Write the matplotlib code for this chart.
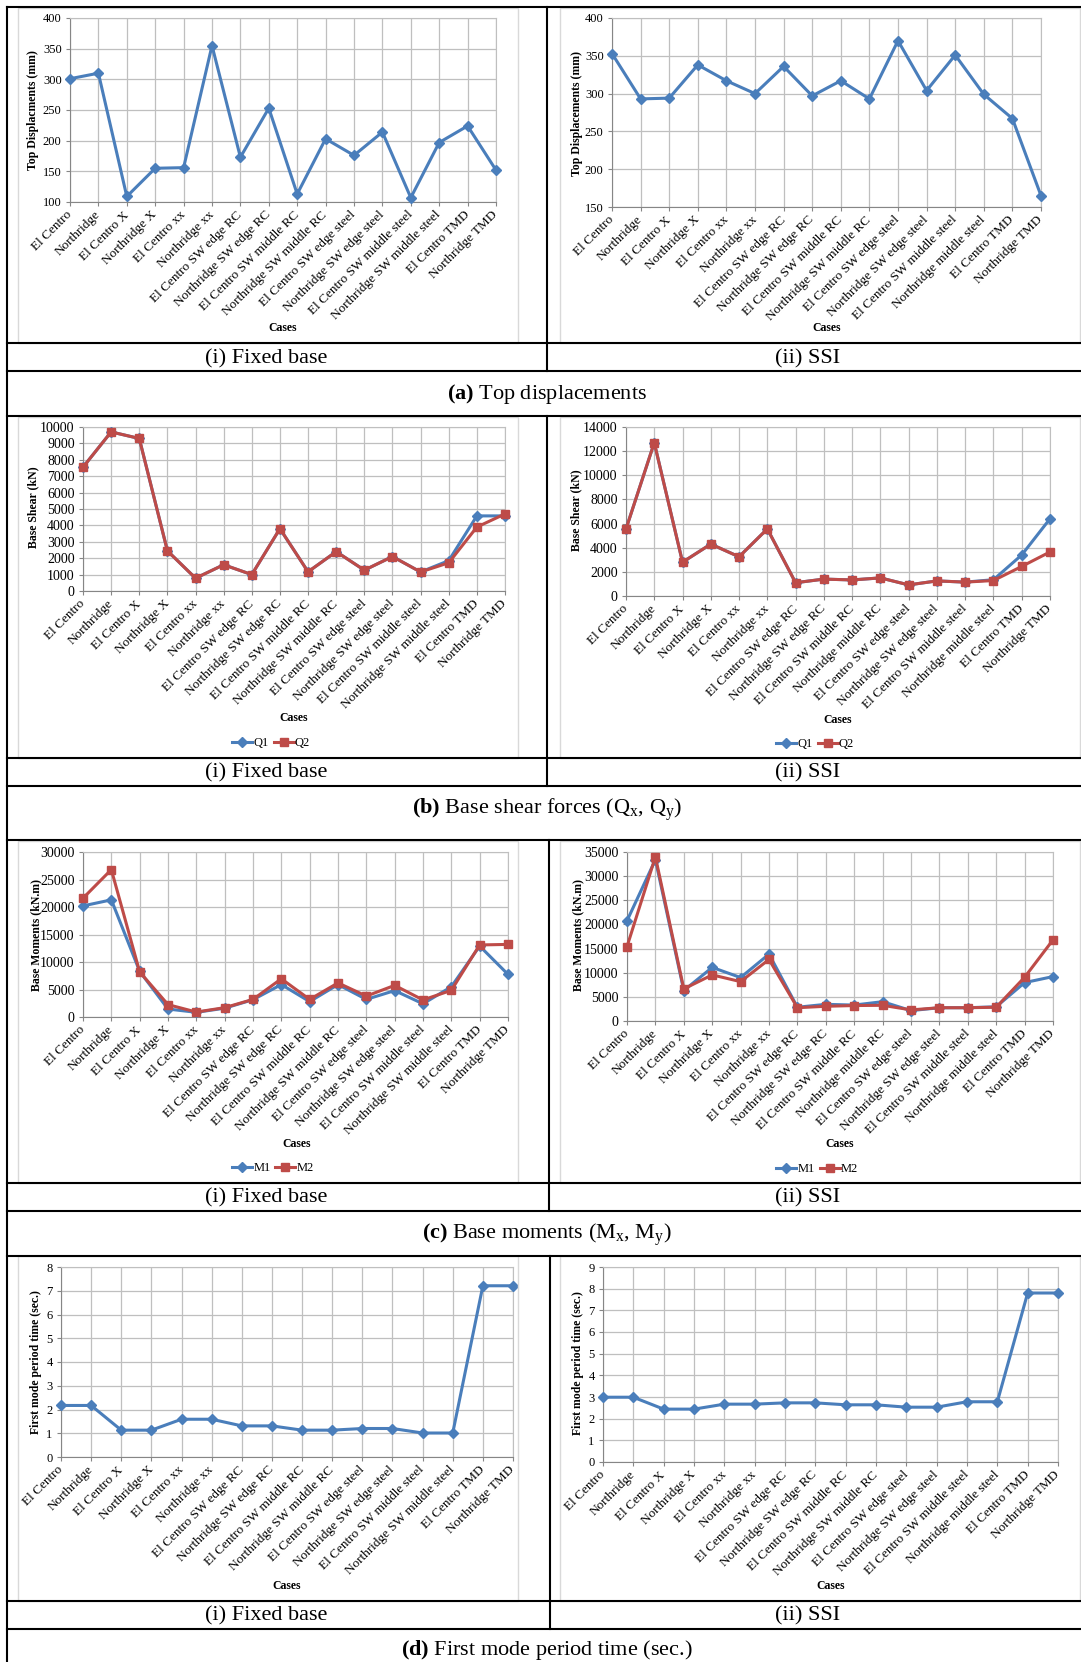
import numpy as np
import matplotlib
matplotlib.use("Agg")
import matplotlib.pyplot as plt
from matplotlib.lines import Line2D
from matplotlib.patches import Rectangle
from matplotlib.ticker import FormatStrFormatter

# page size in pixels, everything below is laid out in pixel coordinates
W, H = 1081, 1662

plt.rcParams['font.family'] = 'Liberation Serif'
plt.rcParams['mathtext.fontset'] = 'custom'
plt.rcParams['mathtext.rm'] = 'Liberation Serif'
plt.rcParams['mathtext.it'] = 'Liberation Serif:italic'
plt.rcParams['mathtext.bf'] = 'Liberation Serif:bold'

# ---- case names ----
cases_fixed = ["El Centro", "Northridge", "El Centro X", "Northridge X",
               "El Centro xx", "Northridge xx", "El Centro SW edge RC",
               "Northridge SW edge RC", "El Centro SW middle RC",
               "Northridge SW middle RC", "El Centro SW edge steel",
               "Northridge SW edge steel", "El Centro SW middle steel",
               "Northridge SW middle steel", "El Centro TMD", "Northridge TMD"]
cases_ssi = ["El Centro", "Northridge", "El Centro X", "Northridge X",
             "El Centro xx", "Northridge xx", "El Centro SW edge RC",
             "Northridge SW edge RC", "El Centro SW middle RC",
             "Northridge SW middle RC", "El Centro SW edge steel",
             "Northridge SW edge steel", "El Centro SW middle steel",
             "Northridge middle steel", "El Centro TMD", "Northridge TMD"]
cases_ssi_force = ["El Centro", "Northridge", "El Centro X", "Northridge X",
                   "El Centro xx", "Northridge xx", "El Centro SW edge RC",
                   "Northridge SW edge RC", "El Centro SW middle RC",
                   "Northridge middle RC", "El Centro SW edge steel",
                   "Northridge SW edge steel", "El Centro SW middle steel",
                   "Northridge middle steel", "El Centro TMD", "Northridge TMD"]

# ---- results ----
# top displacement (mm)
disp_fixed = [301, 310, 109, 155, 156, 355, 173, 253, 113, 203, 176, 214,
              107, 197, 224, 152]
disp_ssi = [353, 293, 294, 338, 317, 300, 336, 297, 317, 293, 370, 304,
            351, 299, 267, 165]

# base shear (kN)
q1_fixed = [7550, 9700, 9300, 2450, 780, 1600, 1000, 3800, 1170, 2400, 1270,
            2100, 1160, 1850, 4580, 4580]
q2_fixed = [7550, 9700, 9300, 2450, 780, 1600, 1000, 3800, 1170, 2400, 1270,
            2100, 1160, 1720, 3900, 4700]
q1_ssi = [5550, 12700, 2800, 4300, 3250, 5560, 1100, 1400, 1330, 1500, 920,
          1250, 1150, 1350, 3400, 6400]
q2_ssi = [5550, 12700, 2800, 4300, 3250, 5560, 1100, 1400, 1330, 1500, 920,
          1250, 1150, 1280, 2450, 3650]

# base moments (kN.m)
m1_fixed = [20200, 21300, 8300, 1450, 850, 1600, 3150, 5900, 2800, 5900,
            3200, 4800, 2400, 5500, 12900, 7750]
m2_fixed = [21600, 26800, 8200, 2250, 900, 1700, 3200, 6950, 3200, 6200,
            3800, 5750, 3100, 4850, 13100, 13200]
m1_ssi = [20750, 33400, 6300, 11100, 9000, 13850, 2850, 3450, 3300, 4000,
          2150, 2750, 2750, 2950, 7950, 9200]
m2_ssi = [15400, 34000, 6650, 9550, 8150, 12750, 2750, 3050, 3200, 3250,
          2300, 2750, 2750, 2850, 9050, 16800]

# first mode period (sec.)
period_fixed = [2.17, 2.17, 1.13, 1.13, 1.59, 1.59, 1.31, 1.31, 1.13, 1.13,
                1.20, 1.20, 1.01, 1.01, 7.21, 7.21]
period_ssi = [2.99, 2.99, 2.44, 2.44, 2.67, 2.67, 2.73, 2.73, 2.64, 2.64,
              2.53, 2.53, 2.78, 2.78, 7.80, 7.80]

BLUE = '#4A7EBB'
RED = '#BE4B48'
GRID = '#BFBFBF'
AXIS = '#868686'


def fy(py):
    return 1 - py / H


def px_axes(fig, x0, y0, x1, y1):
    return fig.add_axes([x0 / W, 1 - y1 / H, (x1 - x0) / W, (y1 - y0) / H])


def hline(fig, y, x0=7, x1=W, lw=1.5, color='black'):
    fig.add_artist(Line2D([x0 / W, x1 / W], [fy(y), fy(y)],
                          transform=fig.transFigure, color=color, lw=lw))


def vline(fig, x, y0, y1, lw=1.5, color='black'):
    fig.add_artist(Line2D([x / W, x / W], [fy(y0), fy(y1)],
                          transform=fig.transFigure, color=color, lw=lw))


def chart_frame(fig, x0, y0, x1, y1):
    fig.add_artist(Rectangle((x0 / W, fy(y1)), (x1 - x0) / W, (y1 - y0) / H,
                             transform=fig.transFigure, fill=False,
                             edgecolor='#D9D9D9', lw=1.0))


def draw_chart(fig, box, labels, series, ylim, ystep, ylabel, ylabel_xy,
               cases_xy, legend_xy=None, ytick_size=9):
    ax = px_axes(fig, *box)
    x = np.arange(len(labels))
    handles = []
    for name, vals, color, marker, ms in series:
        h, = ax.plot(x, vals, color=color, lw=2.2, marker=marker, ms=ms,
                     label=name, clip_on=False, zorder=3)
        handles.append(h)
    ax.set_xlim(0, len(labels) - 1)
    ax.set_ylim(*ylim)
    ax.set_yticks(np.arange(ylim[0], ylim[1] + 1e-9, ystep))
    ax.yaxis.set_major_formatter(FormatStrFormatter('%d'))
    ax.set_xticks(x)
    ax.set_xticklabels(labels, rotation=45, ha='right', va='center',
                       rotation_mode='anchor', fontsize=9.5)
    ax.grid(True, color=GRID, lw=0.9, zorder=0)
    ax.set_axisbelow(True)
    for side in ('top', 'right'):
        ax.spines[side].set_color(GRID)
    for side in ('left', 'bottom'):
        ax.spines[side].set_color(AXIS)
    ax.tick_params(axis='both', length=3, color=AXIS, width=0.8)
    ax.tick_params(axis='y', labelsize=ytick_size, pad=3)
    ax.tick_params(axis='x', pad=5)
    fig.text(ylabel_xy[0] / W, fy(ylabel_xy[1]), ylabel, rotation=90,
             ha='center', va='center', fontsize=8.5, fontweight='bold')
    fig.text(cases_xy[0] / W, fy(cases_xy[1]), "Cases", ha='center',
             va='center', fontsize=8.5, fontweight='bold')
    if legend_xy is not None:
        fig.legend(handles=handles, loc='center',
                   bbox_to_anchor=(legend_xy[0] / W, fy(legend_xy[1])),
                   ncol=len(handles), frameon=False, fontsize=9,
                   handlelength=1.6, handletextpad=0.1, columnspacing=0.4)
    return ax


fig = plt.figure(figsize=(W / 100, H / 100), dpi=100)

# chart area outlines
for top, bottom in [(8, 343), (417, 758), (841, 1183), (1256, 1601)]:
    chart_frame(fig, 18, top, 518, bottom)
    chart_frame(fig, 560, top, 1080, bottom)

# (a) top displacements
draw_chart(fig, (70, 18, 496, 202), cases_fixed,
           [("Top", disp_fixed, BLUE, 'D', 5)],
           (100, 400), 50, "Top Displacments (mm)", (33, 110), (283, 328))
draw_chart(fig, (612, 18, 1041, 207), cases_ssi,
           [("Top", disp_ssi, BLUE, 'D', 5)],
           (150, 400), 50, "Top Displacements (mm)", (577, 113), (827, 328))

# (b) base shear
draw_chart(fig, (83, 427, 505, 591), cases_fixed,
           [("Q1", q1_fixed, BLUE, 'D', 5), ("Q2", q2_fixed, RED, 's', 6.3)],
           (0, 10000), 1000, "Base Shear (kN)", (33, 507), (294, 718),
           legend_xy=(271, 743), ytick_size=10)
draw_chart(fig, (626, 427, 1050, 596), cases_ssi_force,
           [("Q1", q1_ssi, BLUE, 'D', 5), ("Q2", q2_ssi, RED, 's', 6.3)],
           (0, 14000), 2000, "Base Shear (kN)", (576, 510), (838, 720),
           legend_xy=(815, 744), ytick_size=10)

# (c) base moments
draw_chart(fig, (83, 852, 508, 1017), cases_fixed,
           [("M1", m1_fixed, BLUE, 'D', 5), ("M2", m2_fixed, RED, 's', 6.3)],
           (0, 30000), 5000, "Base Moments (kN.m)", (36, 935), (297, 1144),
           legend_xy=(273, 1168), ytick_size=10)
draw_chart(fig, (627, 852, 1053, 1021), cases_ssi_force,
           [("M1", m1_ssi, BLUE, 'D', 5), ("M2", m2_ssi, RED, 's', 6.3)],
           (0, 35000), 5000, "Base Moments (kN.m)", (578, 935), (840, 1144),
           legend_xy=(817, 1169), ytick_size=10)

# (d) first mode period
draw_chart(fig, (61, 1267, 513, 1457), cases_fixed,
           [("T", period_fixed, BLUE, 'D', 5)],
           (0, 8), 1, "First mode period time (sec.)", (36, 1362), (287, 1586))
draw_chart(fig, (603, 1267, 1058, 1462), cases_ssi,
           [("T", period_ssi, BLUE, 'D', 5)],
           (0, 9), 1, "First mode period time (sec.)", (578, 1363), (831, 1586))

# table rules
hline(fig, 7)
vline(fig, 7, 7, H)
for y in (343, 371, 416, 758, 786, 840, 1183, 1211, 1256, 1601, 1629):
    hline(fig, y)
vline(fig, 547, 7, 371)
vline(fig, 547, 416, 786)
vline(fig, 549, 840, 1211)
vline(fig, 550, 1256, 1629)

# sub-captions
for y in (359, 773, 1198, 1616):
    fig.text(266 / W, fy(y), "(i) Fixed base", ha='center', va='center',
             fontsize=16)
    fig.text(808 / W, fy(y), "(ii) SSI", ha='center', va='center',
             fontsize=16)

# row captions
captions = [
    (394, r"$\mathbf{(a)}$ Top displacements"),
    (810, r"$\mathbf{(b)}$ Base shear forces (Q$_\mathrm{x}$, Q$_\mathrm{y}$)"),
    (1235, r"$\mathbf{(c)}$ Base moments (M$_\mathrm{x}$, M$_\mathrm{y}$)"),
    (1650, r"$\mathbf{(d)}$ First mode period time (sec.)"),
]
for y, txt in captions:
    fig.text(547 / W, fy(y), txt, ha='center', va='center', fontsize=16)

fig.savefig("out.png", dpi=100)
